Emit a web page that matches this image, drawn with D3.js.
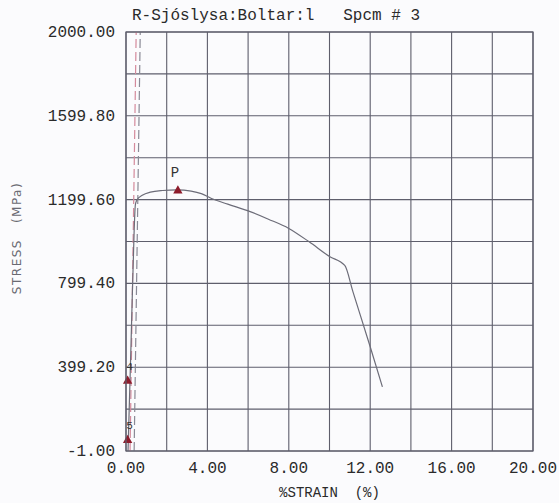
<!DOCTYPE html>
<html>
<head>
<meta charset="utf-8">
<script src="https://cdn.jsdelivr.net/npm/d3@7"></script>
<style>
  html, body { margin: 0; padding: 0; background: #fbfbfd; }
  svg { display: block; }
</style>
</head>
<body>
<div id="chart"></div>
<script>
// Tensile test: stress vs strain
const strain = [0.1, 0.25, 0.4, 0.46, 0.55, 0.8, 1.2, 1.8, 2.5, 3.2, 3.7, 4.2, 5.0, 6.1, 7.0, 8.0, 9.0, 10.0, 10.75, 11.15, 12.0, 12.6];
const stress = [0, 520, 1050, 1175, 1200, 1220, 1235, 1243, 1246, 1240, 1228, 1205, 1178, 1142, 1106, 1062, 998, 928, 885, 760, 497, 305];

const xTicks = [0, 4, 8, 12, 16, 20];
const yTicks = [-1.00, 399.20, 799.40, 1199.60, 1599.80, 2000.00];

// offset / modulus lines (dashed), strain at bottom and top
const offsetLines = [
  { x0: 0.2, x1: 0.5, color: '#d48a9c' },
  { x0: 0.4, x1: 0.7, color: '#8a8a96' }
];

// point markers: label, strain, stress
const markers = [
  { label: 'P', x: 2.55, y: 1247 },
  { label: '4', x: 0.08, y: 338 },
  { label: '5', x: 0.08, y: 55 }
];

const width = 559;
const height = 503;
const margin = { left: 126, right: 26, top: 32, bottom: 52 };

const svg = d3.select('#chart')
  .append('svg')
  .attr('width', width)
  .attr('height', height);

const x = d3.scaleLinear().domain([0, 20]).range([margin.left, width - margin.right]);
const y = d3.scaleLinear().domain([-1, 2000]).range([height - margin.bottom, margin.top]);

const mono = '"Liberation Mono", "Courier New", monospace';

// Grid
const grid = svg.append('g');
grid.selectAll('.vgrid')
  .data(d3.range(0, 21, 2))
  .enter().append('line')
  .attr('x1', d => x(d)).attr('x2', d => x(d))
  .attr('y1', y(-1)).attr('y2', y(2000))
  .attr('stroke', '#5e5e6c')
  .attr('stroke-width', 1.1);
grid.selectAll('.hgrid')
  .data(d3.range(0, 11).map(i => -1 + i * 200.1))
  .enter().append('line')
  .attr('x1', x(0)).attr('x2', x(20))
  .attr('y1', d => y(d)).attr('y2', d => y(d))
  .attr('stroke', '#5e5e6c')
  .attr('stroke-width', 1.1);

// Axis labels
svg.append('g').selectAll('text')
  .data(yTicks)
  .enter().append('text')
  .attr('x', 115)
  .attr('y', d => y(d) + 5)
  .attr('text-anchor', 'end')
  .attr('font-family', mono)
  .attr('font-size', '16px')
  .attr('fill', '#2a2a2a')
  .text(d => d.toFixed(2));

svg.append('g').selectAll('text')
  .data(xTicks)
  .enter().append('text')
  .attr('x', d => x(d))
  .attr('y', 473)
  .attr('text-anchor', 'middle')
  .attr('font-family', mono)
  .attr('font-size', '16px')
  .attr('fill', '#2a2a2a')
  .text(d => d.toFixed(2));

svg.append('text')
  .attr('x', x(10))
  .attr('y', 497)
  .attr('text-anchor', 'middle')
  .attr('font-family', mono)
  .attr('font-size', '14px')
  .attr('fill', '#2a2a2a')
  .attr('xml:space', 'preserve')
  .text('%STRAIN  (%)');

svg.append('text')
  .attr('transform', 'translate(21,238) rotate(-90)')
  .attr('text-anchor', 'middle')
  .attr('font-family', '"DejaVu Sans", sans-serif')
  .attr('font-size', '12px')
  .attr('letter-spacing', '1.5px')
  .attr('fill', '#6a6a72')
  .attr('xml:space', 'preserve')
  .text('STRESS   (MPa)');

// Title
svg.append('text')
  .attr('x', 132)
  .attr('y', 20)
  .attr('font-family', mono)
  .attr('font-size', '16px')
  .attr('fill', '#2a2a2a')
  .attr('xml:space', 'preserve')
  .text('R-Sjóslysa:Boltar:l   Spcm # 3');

// Dashed offset lines
svg.append('g').selectAll('line')
  .data(offsetLines)
  .enter().append('line')
  .attr('x1', d => x(d.x0)).attr('y1', y(-1))
  .attr('x2', d => x(d.x1)).attr('y2', y(2000))
  .attr('stroke', d => d.color)
  .attr('stroke-width', 1.2)
  .attr('stroke-dasharray', '9,4');

// Curve
const line = d3.line()
  .x(d => x(d[0]))
  .y(d => y(d[1]))
  .curve(d3.curveMonotoneX);

svg.append('path')
  .datum(d3.zip(strain, stress))
  .attr('d', line)
  .attr('fill', 'none')
  .attr('stroke', '#6c6c78')
  .attr('stroke-width', 1.2);

// Markers
const tri = d3.symbol().type(d3.symbolTriangle).size(38);
const mk = svg.append('g');
mk.selectAll('path')
  .data(markers)
  .enter().append('path')
  .attr('d', tri)
  .attr('transform', d => `translate(${x(d.x)},${y(d.y) + 1})`)
  .attr('fill', '#8e1c2c');
mk.selectAll('text')
  .data(markers)
  .enter().append('text')
  .attr('x', d => d.label === 'P' ? x(d.x) - 3 : x(d.x) + 2)
  .attr('y', d => d.label === 'P' ? y(d.y) - 13 : y(d.y) - 10)
  .attr('text-anchor', 'middle')
  .attr('font-family', mono)
  .attr('font-size', d => d.label === 'P' ? '14px' : '11px')
  .attr('fill', '#333')
  .text(d => d.label);

// Frame
svg.append('rect')
  .attr('x', x(0)).attr('y', y(2000))
  .attr('width', x(20) - x(0))
  .attr('height', y(-1) - y(2000))
  .attr('fill', 'none')
  .attr('stroke', '#5e5e6c')
  .attr('stroke-width', 1.2);
</script>
</body>
</html>
